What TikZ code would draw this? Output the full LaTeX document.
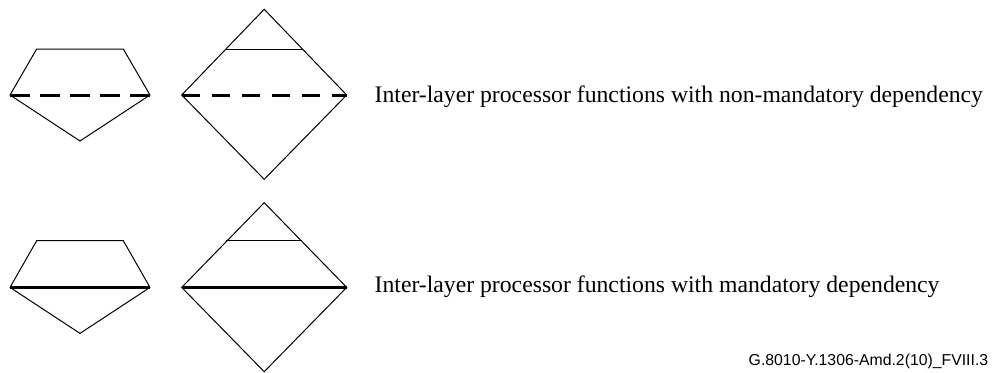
\documentclass[tikz,border=0pt]{standalone}
\usepackage{fontspec}
\setmainfont{Liberation Serif}
\newfontfamily\labelsans{Liberation Sans}
\begin{document}
\begin{tikzpicture}[x=1pt,y=-1pt,
  thinline/.style={line width=1pt,line join=miter},
  dashsep/.style={line width=3pt,dash pattern=on 20pt off 10pt},
  dashsepb/.style={line width=3pt,dash pattern=on 18.3pt off 11.7pt},
  solidsep/.style={line width=3pt},
  caption/.style={anchor=base west,inner sep=0pt,font=\fontsize{23.7}{26}\selectfont},
  figlabel/.style={anchor=base west,inner sep=0pt,font=\labelsans\fontsize{15.8}{18}\selectfont}]
\useasboundingbox (0,0) rectangle (992,372);
% ---- top row (non-mandatory) ----
\begin{scope}
  \coordinate (pL) at (10,95);
  \coordinate (pR) at (150,95);
  \draw[thinline] (pL) -- (36.7,49) -- (123.3,49) -- (pR) -- (80,141) -- cycle;
  \draw[dashsep] (pL) -- (pR);
  \coordinate (dL) at (181.7,95);
  \coordinate (dR) at (346.7,95);
  \draw[thinline] (dL) -- (264.2,9.3) -- (dR) -- (264.2,179.3) -- cycle;
  \draw[thinline] (226.3,49) -- (302.1,49);
  \draw[dashsepb] (dL) -- (dR);
\end{scope}
% ---- bottom row (mandatory) ----
\begin{scope}[yshift=-192.4pt]
  \coordinate (qL) at (10,95);
  \coordinate (qR) at (150,95);
  \draw[thinline] (qL) -- (36.7,48.3) -- (123.3,48.3) -- (qR) -- (80,141) -- cycle;
  \draw[solidsep] (qL) -- (qR);
  \coordinate (eL) at (181.7,95);
  \coordinate (eR) at (346.7,95);
  \draw[thinline] (eL) -- (264.2,10.3) -- (eR) -- (264.2,179.3) -- cycle;
  \draw[thinline] (226.3,48.3) -- (302.1,48.3);
  \draw[solidsep] (eL) -- (eR);
\end{scope}
\node[caption] (t1) at (374.5,102.3) {Inter-layer processor functions with non-mandatory dependency};
\node[caption] (t2) at (374.5,292.3) {Inter-layer processor functions with mandatory dependency};
\node[figlabel] (lbl) at (748.5,365) {G.8010-Y.1306-Amd.2(10)\_FVIII.3};
\end{tikzpicture}
\end{document}
